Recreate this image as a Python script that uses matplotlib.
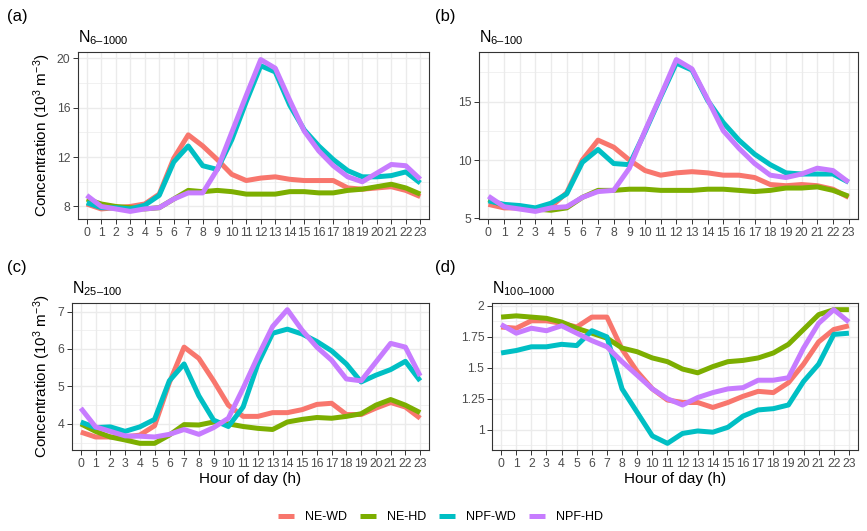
import numpy as np
import matplotlib
matplotlib.use('Agg')
import matplotlib.pyplot as plt
from matplotlib.lines import Line2D

plt.rcParams['font.family'] = ['Liberation Sans', 'DejaVu Sans']
plt.rcParams['mathtext.fontset'] = 'custom'
plt.rcParams['mathtext.rm'] = 'Liberation Sans'
plt.rcParams['mathtext.it'] = 'Liberation Sans:italic'
plt.rcParams['mathtext.bf'] = 'Liberation Sans:bold'

hours = list(range(24))
groups = ['NE-WD', 'NE-HD', 'NPF-WD', 'NPF-HD']
colors = ['#F8766D', '#7CAE00', '#00BFC4', '#C77CFF']

# N6-1000
a_ne_wd = [8.2, 7.8, 7.9, 8.0, 8.2, 9.0, 11.9, 13.8, 12.9, 11.8, 10.6, 10.1,
           10.3, 10.4, 10.2, 10.1, 10.1, 10.1, 9.5, 9.4, 9.5, 9.6, 9.3, 8.8]
a_ne_hd = [8.6, 8.2, 8.0, 7.9, 7.8, 7.9, 8.6, 9.3, 9.2, 9.3, 9.2, 9.0,
           9.0, 9.0, 9.2, 9.2, 9.1, 9.1, 9.3, 9.4, 9.6, 9.8, 9.5, 9.0]
a_npf_wd = [8.3, 7.9, 7.9, 7.8, 8.1, 8.9, 11.6, 12.9, 11.3, 11.0, 13.4, 16.5,
            19.4, 18.9, 16.2, 14.2, 12.9, 11.8, 10.9, 10.4, 10.4, 10.5, 10.8, 9.9]
a_npf_hd = [8.9, 8.0, 7.8, 7.6, 7.8, 7.9, 8.6, 9.1, 9.1, 11.0, 14.0, 17.0,
            19.9, 19.2, 16.6, 14.1, 12.5, 11.3, 10.4, 10.0, 10.7, 11.4, 11.3, 10.2]

# N6-100
b_ne_wd = [6.2, 5.9, 5.9, 5.8, 6.0, 7.2, 10.0, 11.7, 11.1, 10.0, 9.1, 8.7,
           8.9, 9.0, 8.9, 8.7, 8.7, 8.5, 7.9, 7.8, 7.9, 7.8, 7.5, 6.8]
b_ne_hd = [6.6, 6.1, 5.9, 5.8, 5.7, 5.9, 6.8, 7.4, 7.4, 7.5, 7.5, 7.4,
           7.4, 7.4, 7.5, 7.5, 7.4, 7.3, 7.4, 7.6, 7.6, 7.7, 7.4, 6.9]
b_npf_wd = [6.5, 6.2, 6.1, 5.9, 6.3, 7.1, 9.8, 10.9, 9.7, 9.6, 12.4, 15.4,
            18.3, 17.7, 15.1, 13.2, 11.7, 10.5, 9.6, 8.9, 8.8, 8.8, 8.8, 8.1]
b_npf_hd = [6.9, 6.0, 5.8, 5.6, 5.9, 6.0, 6.8, 7.3, 7.4, 9.3, 12.5, 15.5,
            18.6, 17.8, 15.2, 12.5, 11.0, 9.7, 8.7, 8.5, 8.8, 9.3, 9.1, 8.1]

# N25-100
c_ne_wd = [3.78, 3.65, 3.65, 3.65, 3.7, 3.95, 5.1, 6.05, 5.75, 5.15, 4.5, 4.2,
           4.2, 4.3, 4.3, 4.38, 4.52, 4.55, 4.25, 4.25, 4.42, 4.57, 4.45, 4.15]
c_ne_hd = [4.0, 3.8, 3.65, 3.57, 3.48, 3.48, 3.7, 3.98, 3.97, 4.05, 4.0, 3.93,
           3.88, 3.85, 4.05, 4.12, 4.17, 4.15, 4.2, 4.27, 4.5, 4.65, 4.5, 4.3]
c_npf_wd = [4.05, 3.9, 3.92, 3.8, 3.92, 4.12, 5.15, 5.6, 4.75, 4.1, 3.93, 4.45,
            5.6, 6.42, 6.53, 6.4, 6.2, 5.95, 5.6, 5.12, 5.3, 5.45, 5.67, 5.15]
c_npf_hd = [4.42, 3.92, 3.8, 3.68, 3.67, 3.65, 3.72, 3.85, 3.72, 3.9, 4.15, 4.95,
            5.8, 6.6, 7.05, 6.5, 6.05, 5.7, 5.2, 5.15, 5.65, 6.15, 6.05, 5.28]

# N100-1000
d_ne_wd = [1.83, 1.82, 1.88, 1.88, 1.86, 1.83, 1.91, 1.91, 1.65, 1.47, 1.33, 1.24,
           1.22, 1.22, 1.18, 1.22, 1.27, 1.31, 1.30, 1.38, 1.53, 1.71, 1.81, 1.84]
d_ne_hd = [1.91, 1.92, 1.91, 1.90, 1.87, 1.82, 1.78, 1.74, 1.66, 1.63, 1.58, 1.55,
           1.49, 1.46, 1.51, 1.55, 1.56, 1.58, 1.62, 1.69, 1.81, 1.93, 1.97, 1.97]
d_npf_wd = [1.62, 1.64, 1.67, 1.67, 1.69, 1.68, 1.80, 1.75, 1.33, 1.14, 0.95, 0.89,
            0.97, 0.99, 0.98, 1.02, 1.11, 1.16, 1.17, 1.20, 1.39, 1.53, 1.77, 1.78]
d_npf_hd = [1.85, 1.78, 1.82, 1.80, 1.84, 1.78, 1.72, 1.67, 1.55, 1.44, 1.33, 1.25,
            1.20, 1.26, 1.30, 1.33, 1.34, 1.40, 1.40, 1.42, 1.66, 1.86, 1.97, 1.87]

panels = [
    ('(a)', r'N$_{\mathregular{6–1000}}$', [a_ne_wd, a_ne_hd, a_npf_wd, a_npf_hd],
     [8, 12, 16, 20], ['8', '12', '16', '20'], [10, 14, 18]),
    ('(b)', r'N$_{\mathregular{6–100}}$', [b_ne_wd, b_ne_hd, b_npf_wd, b_npf_hd],
     [5, 10, 15], ['5', '10', '15'], [7.5, 12.5, 17.5]),
    ('(c)', r'N$_{\mathregular{25–100}}$', [c_ne_wd, c_ne_hd, c_npf_wd, c_npf_hd],
     [4, 5, 6, 7], ['4', '5', '6', '7'], [3.5, 4.5, 5.5, 6.5]),
    ('(d)', r'N$_{\mathregular{100–1000}}$', [d_ne_wd, d_ne_hd, d_npf_wd, d_npf_hd],
     [1, 1.25, 1.5, 1.75, 2], ['1', '1.25', '1.5', '1.75', '2'],
     [0.875, 1.125, 1.375, 1.625, 1.875]),
]

# axes boxes in figure fractions (left, bottom, width, height)
boxes = [
    [0.0900, 0.5876, 0.4048, 0.3145],
    [0.5525, 0.5876, 0.4371, 0.3145],
    [0.0830, 0.1525, 0.4118, 0.2769],
    [0.5675, 0.1525, 0.4221, 0.2769],
]
tag_pos = [(0.008, 0.968), (0.502, 0.968), (0.008, 0.497), (0.502, 0.497)]

fig = plt.figure(figsize=(8.67, 5.31), dpi=100)

for i, (tag, title, series, yt, ytl, ymin) in enumerate(panels):
    ax = fig.add_axes(boxes[i])
    for vals, col in zip(series, colors):
        ax.plot(hours, vals, color=col, lw=3.6, solid_capstyle='butt',
                solid_joinstyle='round')

    allv = np.concatenate([np.array(s) for s in series])
    lo, hi = allv.min(), allv.max()
    pad = (hi - lo) * 0.05
    ax.set_ylim(lo - pad, hi + pad)
    ax.set_xlim(-0.6, 23.6)

    ax.set_xticks(hours)
    ax.set_xticklabels([str(h) for h in hours])
    ax.set_yticks(yt)
    ax.set_yticklabels(ytl)
    ax.set_yticks(ymin, minor=True)

    ax.set_axisbelow(True)
    ax.grid(which='major', color='#EBEBEB', lw=1.0)
    ax.grid(which='minor', axis='y', color='#EBEBEB', lw=0.5)
    ax.tick_params(which='minor', length=0)
    ax.tick_params(which='major', length=3.5, width=0.7, color='#333333',
                   labelcolor='#4D4D4D', labelsize=8.8, pad=2)
    for sp in ax.spines.values():
        sp.set_color('#333333')
        sp.set_linewidth(0.8)

    ax.set_title(title, loc='left', fontsize=11.5, pad=7)
    if i in (0, 2):
        ax.set_ylabel('Concentration (10$^3$ m$^{-3}$)', fontsize=11, labelpad=3)
    if i in (2, 3):
        ax.set_xlabel('Hour of day (h)', fontsize=11, labelpad=2)

    fig.text(tag_pos[i][0], tag_pos[i][1], tag, fontsize=12, ha='left', va='center')

handles = [Line2D([0], [0], color=c, lw=3.6, solid_capstyle='butt') for c in colors]
fig.legend(handles, groups, loc='center', bbox_to_anchor=(0.508, 0.026), ncol=4,
           frameon=False, fontsize=9, handlelength=1.3, handletextpad=0.9,
           columnspacing=1.0)

plt.savefig('out.png', dpi=100)
